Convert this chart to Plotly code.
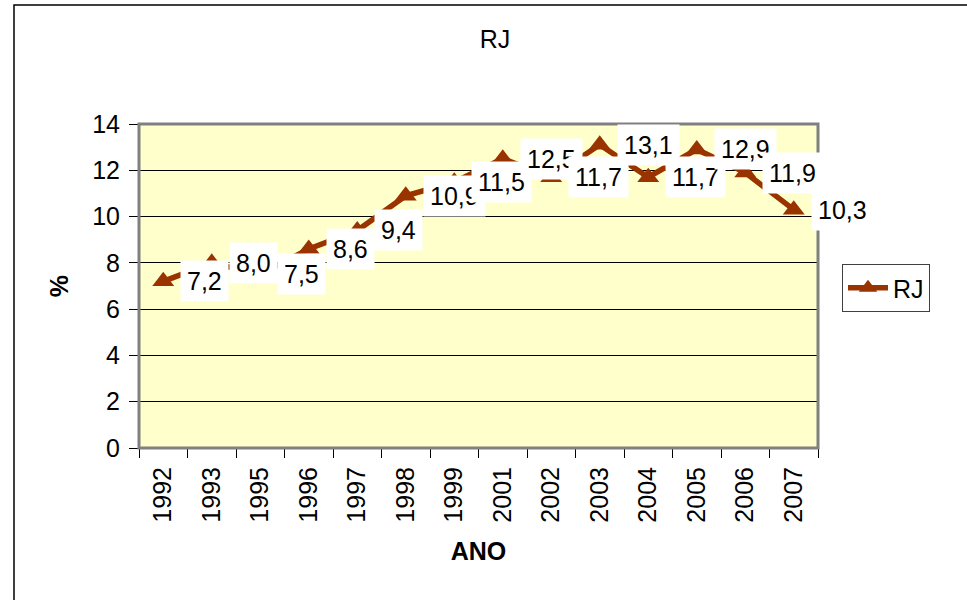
import plotly.graph_objects as go

anos = ["1992", "1993", "1995", "1996", "1997", "1998", "1999", "2001",
        "2002", "2003", "2004", "2005", "2006", "2007"]
valores = [7.2, 8.0, 7.5, 8.6, 9.4, 10.9, 11.5, 12.5, 11.7, 13.1, 11.7, 12.9, 11.9, 10.3]
rotulos = [f"{v:.1f}".replace(".", ",") for v in valores]
serie = "RJ"

COR = "#993300"
FONTE = "Liberation Sans, Arial, sans-serif"
FS = 25

fig = go.Figure()
fig.add_trace(go.Scatter(
    x=anos, y=valores, mode="lines+markers", name=serie,
    line=dict(color=COR, width=5.5),
    marker=dict(symbol="triangle-up", size=19, color=COR),
))

annotations = []
for i, (v, t) in enumerate(zip(valores, rotulos)):
    annotations.append(dict(
        x=i, y=v, xref="x", yref="y", text=t, showarrow=False,
        xanchor="left", yanchor="middle", xshift=17,
        bgcolor="white", borderpad=6,
        font=dict(family=FONTE, size=FS, color="black"),
    ))

fig.update_layout(
    width=967, height=600,
    margin=dict(l=139, r=149, t=124, b=152),
    paper_bgcolor="white", plot_bgcolor="#FFFFCC",
    font=dict(family=FONTE, size=FS, color="black"),
    title=dict(text="RJ", x=495/967, xref="container", xanchor="center",
               y=1-39/600, yref="container", yanchor="middle",
               font=dict(family=FONTE, size=FS, color="black")),
    showlegend=True,
    legend=dict(x=(842-139)/679, xanchor="left", y=(448-264)/324, yanchor="top",
                bgcolor="white", bordercolor="#404040", borderwidth=1,
                font=dict(family=FONTE, size=FS, color="black"),
                itemwidth=40, tracegroupgap=0),
    annotations=annotations,
    xaxis=dict(type="category", range=[-0.5, len(anos)-0.5],
               tickson="boundaries", ticks="outside", ticklen=9,
               tickcolor="black", showline=True, linecolor="black", linewidth=1,
               tickangle=-90, showgrid=False, mirror=False, ticklabelstandoff=8,
               title=dict(text="<b>ANO</b>", font=dict(family=FONTE, size=FS), standoff=20),
               tickfont=dict(family=FONTE, size=FS)),
    yaxis=dict(range=[0, 14], dtick=2, ticks="outside", ticklen=9, tickcolor="black",
               showline=True, linecolor="black", linewidth=1, showgrid=True,
               gridcolor="black", gridwidth=1, zeroline=False, ticklabelstandoff=4,
               title=dict(text="<b>%</b>", font=dict(family=FONTE, size=FS), standoff=16),
               tickfont=dict(family=FONTE, size=FS)),
    shapes=[
        dict(type="rect", xref="paper", yref="paper", x0=0, x1=1, y0=0, y1=1,
             line=dict(color="#808080", width=3), layer="above"),
        dict(type="rect", xref="paper", yref="paper",
             x0=(14-139)/679, x1=1.6, y0=-1, y1=(448-5)/324,
             line=dict(color="black", width=1.5), layer="below"),
    ],
)

fig.write_html("out.html", config={"displayModeBar": False},
               post_script="document.body.style.margin='0';")
